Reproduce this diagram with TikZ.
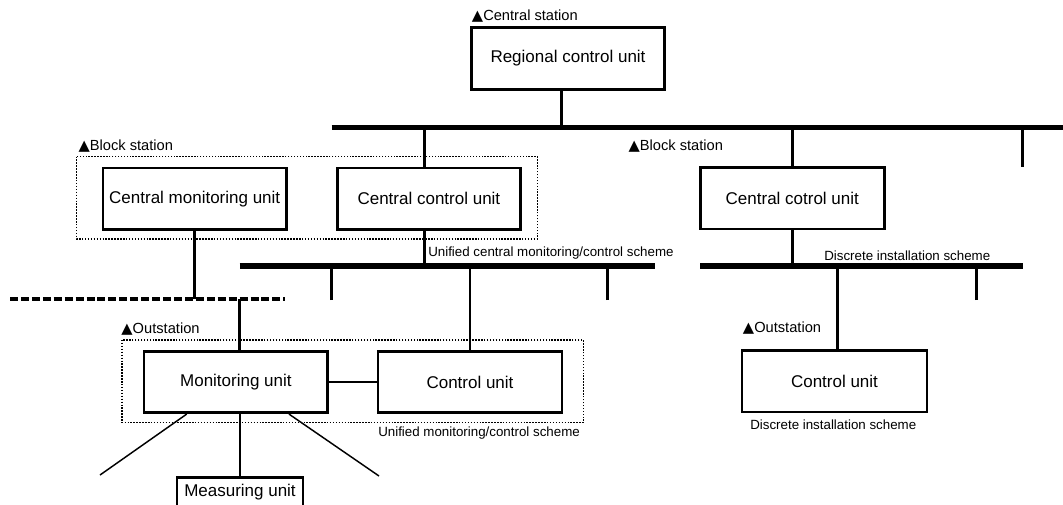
\documentclass[tikz,border=0pt]{standalone}
\usepackage{fontspec}
\setmainfont{Liberation Sans}
\newfontfamily\dvfont{DejaVu Sans}
\newcommand{\tri}{{\dvfont ▲}}
\begin{document}
\begin{tikzpicture}[x=0.75pt,y=-0.75pt,
  unitbox/.style={draw,line width=2pt,inner sep=0pt,minimum height=61.5*0.75pt,
    font=\fontsize{12.75pt}{15pt}\selectfont},
  bus/.style={line width=4pt},
  conn/.style={line width=2.2pt},
  thin/.style={line width=1.1pt},
  grp/.style={line width=1.2pt,dash pattern=on 1.1pt off 1.1pt},
  dashbus/.style={line width=2.6pt,dash pattern=on 6pt off 2.2pt},
  lbl/.style={anchor=west,inner sep=0pt,font=\fontsize{11pt}{13pt}\selectfont},
  sch/.style={anchor=west,inner sep=0pt,font=\fontsize{10pt}{12pt}\selectfont}]
\useasboundingbox[fill=white] (0,0) rectangle (1063,504);

% group frames
\draw[grp] (76.5,156.5) rectangle (537.5,239);
\draw[grp] (122,340) rectangle (583.5,422.5);

% boxes
\node[unitbox,minimum width=193*0.75pt] (reg) at (568,58.5) {Regional control unit};
\node[unitbox,minimum width=183.3*0.75pt] (cmu) at (194.7,198.7) {Central monitoring unit};
\node[unitbox,minimum width=183*0.75pt] (ccu) at (428.9,198.7) {Central control unit};
\node[unitbox,minimum width=184*0.75pt] (rccu) at (792.3,198.4) {Central cotrol unit};
\node[unitbox,minimum width=183.6*0.75pt] (mon) at (235.9,382) {Monitoring unit};
\node[unitbox,minimum width=184*0.75pt] (ctl) at (470,382) {Control unit};
\node[unitbox,minimum width=185*0.75pt] (rctl) at (834.5,381.3) {Control unit};
\node[unitbox,minimum width=126*0.75pt,minimum height=30*0.75pt] (meas) at (240,492.4) {Measuring unit};

% labels
\node[lbl] (lcs) at (471.7,16) {\tri Central station};
\node[lbl] (lbs1) at (78.3,146) {\tri Block station};
\node[lbl] (lbs2) at (628.3,146) {\tri Block station};
\node[lbl] (los1) at (121.2,329) {\tri Outstation};
\node[lbl] (los2) at (742.7,328.3) {\tri Outstation};
\node[sch] (s1) at (428,253) {Unified central monitoring/control scheme};
\node[sch] (s2) at (824,255.5) {Discrete installation scheme};
\node[sch] (s3) at (378,433) {Unified monitoring/control scheme};
\node[sch] (s4) at (750,425) {Discrete installation scheme};

% bus end points
\coordinate (tb1) at (331.6,127.5);
\coordinate (tb2) at (1063,127.5);
\coordinate (mb1) at (239.7,266);
\coordinate (mb2) at (655,266);
\coordinate (rb1) at (700,266);
\coordinate (rb2) at (1022.7,266);
\coordinate (dl1) at (10,299);
\coordinate (dl2) at (285,299);
\coordinate (e1) at (1022.3,166.7);
\coordinate (e2) at (331.6,300);
\coordinate (e3) at (607.3,300);
\coordinate (e4) at (976.7,300);
\coordinate (d1) at (100,475);
\coordinate (d2) at (379,476);

% buses
\draw[bus] (tb1) -- (tb2);
\draw[bus] (mb1) -- (mb2);
\draw[bus] (rb1) -- (rb2);
\draw[dashbus] (dl1) -- (dl2);

% connectors
\draw[conn] ([xshift=-6.3*0.75pt]reg.south) -- ([xshift=-6.3*0.75pt]reg.south |- tb1);
\draw[conn] ([xshift=-4.6*0.75pt]ccu.north) -- ([xshift=-4.6*0.75pt]ccu.north |- tb1);
\draw[conn] (rccu.north) -- (rccu.north |- tb1);
\draw[conn] (e1) -- (e1 |- tb1);
\draw[conn] ([xshift=-4.6*0.75pt]ccu.south) -- ([xshift=-4.6*0.75pt]ccu.south |- mb1);
\draw[conn] (cmu.south) -- (cmu.south |- dl1);
\draw[conn] (rccu.south) -- (rccu.south |- rb1);
\draw[conn] (e2) -- (e2 |- mb1);
\draw[conn] (e3) -- (e3 |- mb1);
\draw[conn] (e4) -- (e4 |- rb1);
\draw[conn] (ctl.north) -- (ctl.north |- mb1);
\draw[conn] ([xshift=3.2*0.75pt]rctl.north) -- ([xshift=3.2*0.75pt]rctl.north |- rb1);
\draw[conn] ([xshift=3.4*0.75pt]mon.north) -- ([xshift=3.4*0.75pt]mon.north |- dl1);
\draw[conn] (mon.east) -- (ctl.west);
\draw[conn] (meas.north) -- (meas.north |- mon.south);
\draw[thin] ([xshift=-49.2*0.75pt]mon.south) -- (d1);
\draw[thin] ([xshift=53.1*0.75pt]mon.south) -- (d2);
\end{tikzpicture}
\end{document}
